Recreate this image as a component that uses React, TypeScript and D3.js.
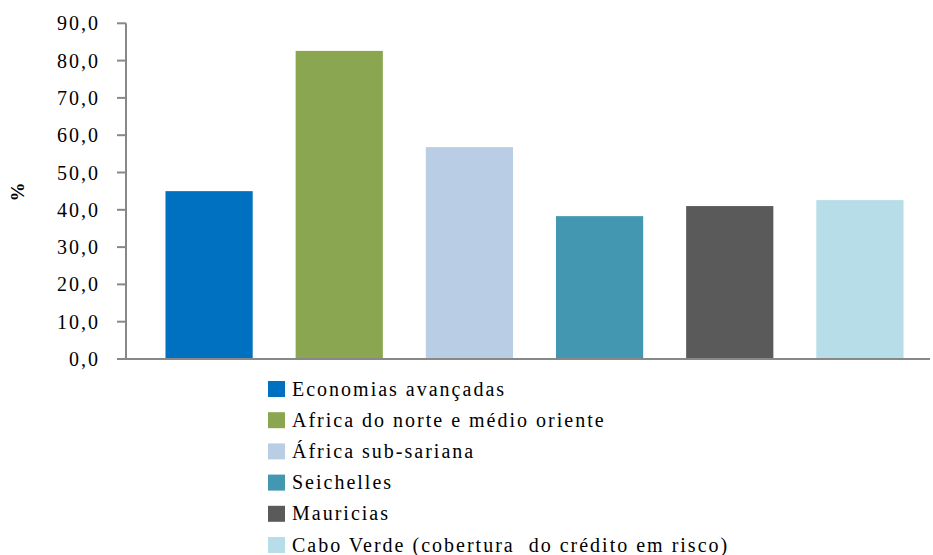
import React from "react";
import * as d3 from "d3";

const categories = [
  "Economias avançadas",
  "Africa do norte e médio oriente",
  "África sub-sariana",
  "Seichelles",
  "Mauricias",
  "Cabo Verde (cobertura  do crédito em risco)",
];
const values = [45.0, 82.6, 56.8, 38.3, 41.0, 42.6];
const colors = ["#0070C0", "#8BA650", "#B9CDE5", "#4397B0", "#5A5A5A", "#B7DDE8"];
const yTicks = [0, 10, 20, 30, 40, 50, 60, 70, 80, 90];

export default function App() {
  const W = 933, H = 555;
  const y = d3.scaleLinear().domain([0, 90]).range([359, 23.3]);
  const x = d3.scaleBand<string>().domain(categories).range([144, 925]).paddingInner(0.33).paddingOuter(0.165);
  const fmt = (v: number) => v.toFixed(1).replace(".", ",");
  const font = `"Liberation Serif"`;
  return (
    <svg width={W} height={H} style={{ position: "absolute", left: 0, top: 0 }}>
      {categories.map((c, i) => (
        <rect key={c} x={x(c)} y={y(values[i])} width={x.bandwidth()} height={y(0) - y(values[i])} fill={colors[i]} />
      ))}
      <line x1={126} x2={126} y1={y(90)} y2={y(0)} stroke="#888" strokeWidth={2} />
      {yTicks.map((t) => (
        <g key={t}>
          <line x1={117} x2={126} y1={y(t)} y2={y(t)} stroke="#888" strokeWidth={2} />
          <text x={100} y={y(t)} dy="0.35em" textAnchor="end" fontSize={20} letterSpacing={2} fill="#000" style={{ fontFamily: font }}>
            {fmt(t)}
          </text>
        </g>
      ))}
      <line x1={117} x2={930} y1={y(0)} y2={y(0)} stroke="#888" strokeWidth={2} />
      <text transform="translate(24,192) rotate(-90)" textAnchor="middle" fontSize={19} fontWeight="bold" fill="#000" style={{ fontFamily: font }}>%</text>
      {categories.map((c, i) => {
        const cy = 389 + i * 31.2;
        return (
          <g key={"l" + c}>
            <rect x={268} y={cy - 8} width={17} height={16} fill={colors[i]} />
            <text x={292} y={cy} dy="0.33em" fontSize={20} letterSpacing={2} fill="#000" style={{ fontFamily: font, whiteSpace: "pre" }}>{c}</text>
          </g>
        );
      })}
    </svg>
  );
}
